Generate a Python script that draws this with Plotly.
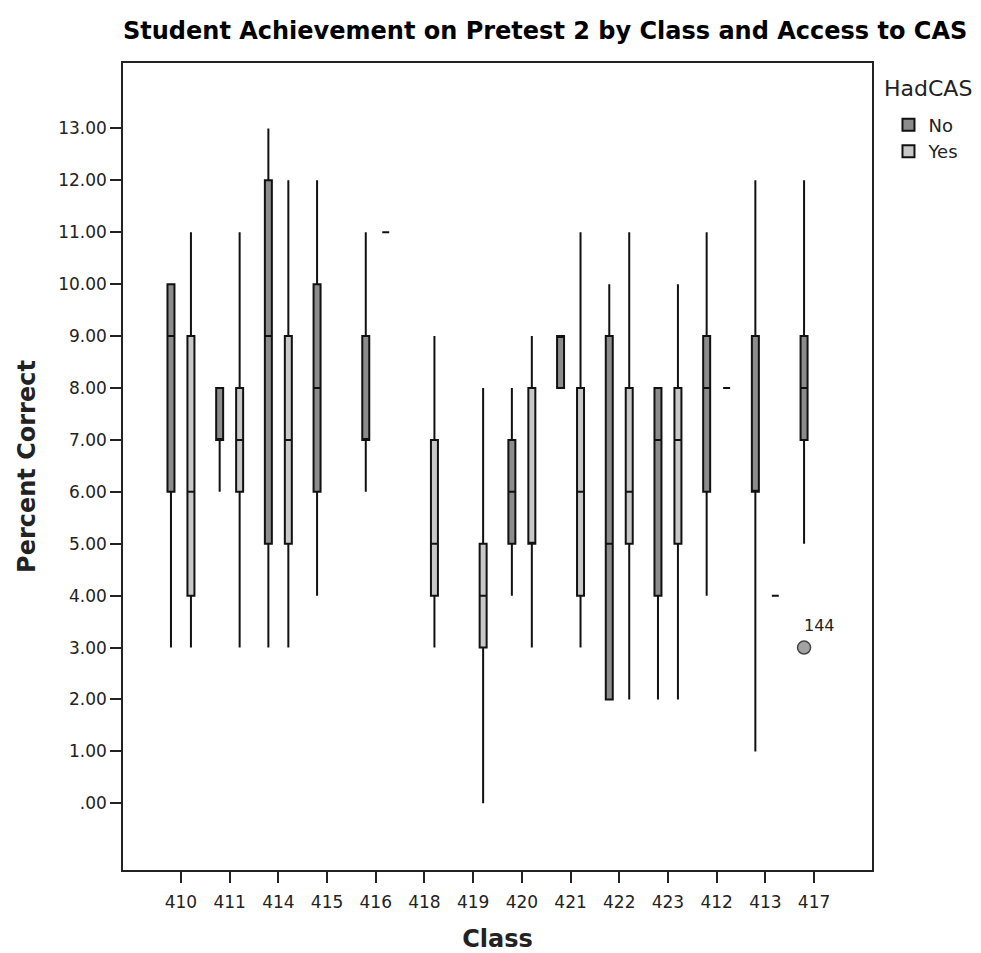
import plotly.graph_objects as go

classes = ["410", "411", "414", "415", "416", "418", "419", "420", "421", "422", "423", "412", "413", "417"]
y_tick_values = list(range(14))
y_tick_labels = [".00", "1.00", "2.00", "3.00", "4.00", "5.00", "6.00", "7.00",
                 "8.00", "9.00", "10.00", "11.00", "12.00", "13.00"]

# HadCAS = No
no_min = [3, 6, 3, 4, 6, None, None, 4, 8, 2, 2, 4, 1, 5]
no_q1 = [6, 7, 5, 6, 7, None, None, 5, 8, 2, 4, 6, 6, 7]
no_med = [9, 7, 9, 8, 7, None, None, 6, 9, 5, 7, 8, 6, 8]
no_q3 = [10, 8, 12, 10, 9, None, None, 7, 9, 9, 8, 9, 9, 9]
no_max = [10, 8, 13, 12, 11, None, None, 8, 9, 10, 8, 11, 12, 12]

# HadCAS = Yes
yes_min = [3, 3, 3, None, 11, 3, 0, 3, 3, 2, 2, 8, 4, None]
yes_q1 = [4, 6, 5, None, 11, 4, 3, 5, 4, 5, 5, 8, 4, None]
yes_med = [6, 7, 7, None, 11, 5, 4, 5, 6, 6, 7, 8, 4, None]
yes_q3 = [9, 8, 9, None, 11, 7, 5, 8, 8, 8, 8, 8, 4, None]
yes_max = [11, 11, 12, None, 11, 9, 8, 9, 11, 11, 10, 8, 4, None]

# outlier (HadCAS = No)
outlier_class = ["417"]
outlier_value = [3]
outlier_label = ["144"]

FONT = "DejaVu Sans"
no_color = "#8c8c8c"
yes_color = "#c8c8c8"


def keep(cats, *cols):
    rows = [r for r in zip(cats, *cols) if r[1] is not None]
    return [list(c) for c in zip(*rows)]


fig = go.Figure()

for name, color, cols in [
    ("No", no_color, (no_min, no_q1, no_med, no_q3, no_max)),
    ("Yes", yes_color, (yes_min, yes_q1, yes_med, yes_q3, yes_max)),
]:
    xs, lo, q1, med, q3, hi = keep(classes, *cols)
    fig.add_trace(go.Box(
        name=name, x=xs, lowerfence=lo, q1=q1, median=med, q3=q3, upperfence=hi,
        fillcolor=color, line=dict(color="#111111", width=2),
        whiskerwidth=0, boxpoints=False,
        offsetgroup=name, alignmentgroup="all", legendgroup=name,
    ))

fig.add_trace(go.Box(
    x=outlier_class, y=outlier_value, offsetgroup="No", alignmentgroup="all",
    boxpoints="all", jitter=0, pointpos=0,
    fillcolor="rgba(0,0,0,0)", line=dict(color="rgba(0,0,0,0)", width=0),
    marker=dict(size=13, color="#a3a3a3", line=dict(color="#444444", width=1.5)),
    showlegend=False, hoverinfo="skip",
))

for c, v, t in zip(outlier_class, outlier_value, outlier_label):
    fig.add_annotation(x=classes.index(c), y=v, text=t, showarrow=False,
                       xshift=5, yshift=22,
                       font=dict(family=FONT, size=16, color="#222222"))

# legend title
fig.add_annotation(text="HadCAS", xref="paper", yref="paper", x=1.014, y=0.969,
                   xanchor="left", yanchor="middle", showarrow=False,
                   font=dict(family=FONT, size=22, color="#222222"))

fig.update_layout(
    width=981, height=953,
    margin=dict(l=123, r=109, t=63, b=83),
    paper_bgcolor="white", plot_bgcolor="white",
    boxmode="group", boxgap=0.18, boxgroupgap=0.65,
    font=dict(family=FONT, color="#222222"),
    title=dict(text="Student Achievement on Pretest 2 by Class and Access to CAS",
               x=0, xref="paper", xanchor="left", y=1 - 31 / 953, yref="container",
               yanchor="middle", font=dict(family=FONT, size=24, color="black", weight="bold")),
    legend=dict(x=1.022, xanchor="left", y=0.946, yanchor="top",
                font=dict(size=18, color="#222222"), bgcolor="rgba(0,0,0,0)",
                tracegroupgap=0),
    showlegend=True,
)

fig.update_xaxes(
    type="category", categoryorder="array", categoryarray=classes,
    range=[-1.19, 14.19], showgrid=False, zeroline=False, automargin=False,
    showline=True, linecolor="#222222", linewidth=1.5, mirror=True,
    ticks="outside", ticklen=11, tickwidth=1.5, tickcolor="#222222",
    ticklabelstandoff=5,
    tickfont=dict(size=17, color="#222222"),
    title=dict(text="Class", font=dict(size=24, color="#222222", weight="bold"), standoff=28),
)
fig.update_yaxes(
    range=[-1.285, 14.26], tickvals=y_tick_values, ticktext=y_tick_labels,
    showgrid=False, zeroline=False, automargin=False,
    showline=True, linecolor="#222222", linewidth=1.5, mirror=True,
    ticks="outside", ticklen=11, tickwidth=1.5, tickcolor="#222222",
    tickfont=dict(size=17, color="#222222"),
    title=dict(text="Percent Correct", font=dict(size=24, color="#222222", weight="bold"), standoff=16),
)

fig.write_html("out.html")
